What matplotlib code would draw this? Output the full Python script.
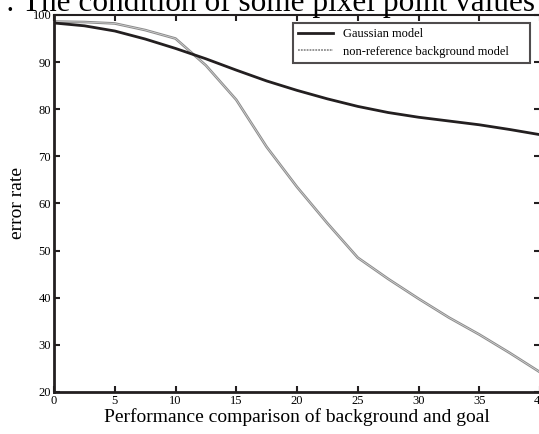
import matplotlib
matplotlib.use("Agg")
import matplotlib.pyplot as plt

plt.rcParams['font.family'] = ['Liberation Serif', 'DejaVu Serif']

# values
x_vals = [0, 2.5, 5, 7.5, 10, 12.5, 15, 17.5, 20, 22.5, 25, 27.5, 30, 32.5, 35, 37.5, 40]
gaussian = [98.3, 97.7, 96.6, 94.9, 92.9, 90.7, 88.3, 86.0, 84.0, 82.2, 80.6,
            79.3, 78.3, 77.5, 76.7, 75.7, 74.6]
nonref = [98.6, 98.5, 98.2, 96.8, 95.0, 89.3, 82.0, 72.0, 63.5, 55.8, 48.5,
          44.0, 39.8, 35.8, 32.2, 28.3, 24.2]

x_ticks = [0, 5, 10, 15, 20, 25, 30, 35, 40]
y_ticks = [20, 30, 40, 50, 60, 70, 80, 90, 100]

dark = '#231f20'

fig = plt.figure(figsize=(5.39, 4.34), dpi=100)
ax = fig.add_axes([0.1002, 0.0968, 0.9017, 0.8687])

ax.plot(x_vals, gaussian, color=dark, lw=2.0, label='Gaussian model', zorder=3)
ax.plot(x_vals, nonref, color='#8c8c8c', lw=1.9, zorder=2)
ax.plot(x_vals, nonref, color='#d8d8d8', lw=0.5, zorder=2)
# legend-only handle for the dotted grey style
ax.plot([], [], color='#8c8c8c', lw=1.3, ls=(0, (1, 0.6)),
        label='non-reference background model')

ax.set_xlim(0, 40)
ax.set_ylim(20, 100)
ax.set_xticks(x_ticks)
ax.set_yticks(y_ticks)
ax.tick_params(direction='in', length=4, width=1.5, color=dark,
               top=True, right=True, labelsize=9, pad=2)
for side in ['left', 'bottom']:
    ax.spines[side].set_linewidth(2.0)
    ax.spines[side].set_color(dark)
for side in ['top', 'right']:
    ax.spines[side].set_linewidth(1.5)
    ax.spines[side].set_color(dark)

ax.set_xlabel('Performance comparison of background and goal', fontsize=14, labelpad=1)
ax.set_ylabel('error rate', fontsize=14, labelpad=5)

leg = ax.legend(loc='upper left', bbox_to_anchor=(0.492, 0.865, 0.487, 0.114),
                mode='expand', borderaxespad=0,
                fontsize=9, frameon=True, fancybox=False, handlelength=2.8,
                labelspacing=0.45, borderpad=0.4, handletextpad=0.8)
leg.get_frame().set_edgecolor(dark)
leg.get_frame().set_linewidth(1.5)

# caption of the figure, cut off at the top edge in the reference
fig.text(0.993, 0.975, ': The condition of some pixel point values', fontsize=22.5,
         ha='right', va='baseline')

fig.savefig('out.png', dpi=100)
